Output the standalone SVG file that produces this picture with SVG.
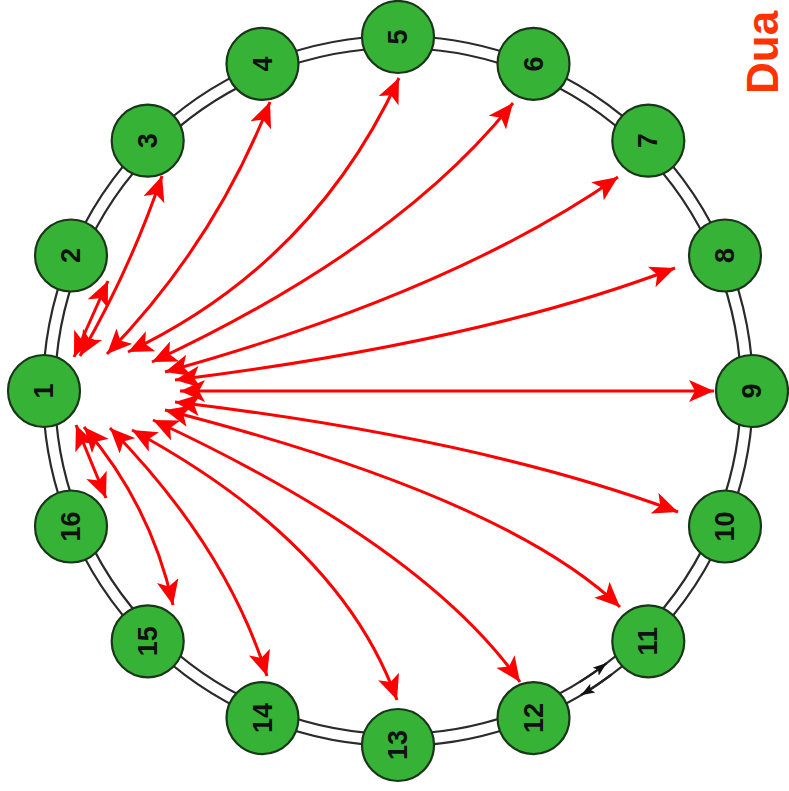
<svg xmlns="http://www.w3.org/2000/svg" width="789" height="791" viewBox="0 0 789 791">
<style>
.ring{fill:none;stroke:#2a2a2a;stroke-width:2.2}
.e{fill:none;stroke:#f00;stroke-width:3;marker-start:url(#ah);marker-end:url(#ah)}
.bk{fill:none;stroke:#222;stroke-width:2.2;marker-end:url(#bh)}
.n circle{fill:#36b236;stroke:#1a361a;stroke-width:2.2}
.n text{font-family:"Liberation Sans",Arial,sans-serif;font-weight:bold;font-size:27px;fill:#111;text-anchor:middle;dominant-baseline:central}
.title{font-family:"Liberation Sans",Arial,sans-serif;font-weight:bold;font-size:44px;fill:#ff3300}
</style>
<defs>
<marker id="ah" markerUnits="userSpaceOnUse" viewBox="0 0 25 22" markerWidth="25" markerHeight="22" refX="25" refY="11" orient="auto-start-reverse"><path d="M0,0 L25,11 L0,22 L6,11 Z" fill="#f00"/></marker>
<marker id="bh" markerUnits="userSpaceOnUse" viewBox="0 0 14 10" markerWidth="14" markerHeight="10" refX="14" refY="5" orient="auto"><path d="M0,0 L14,5 L0,10 L3,5 Z" fill="#111"/></marker>
</defs>
<rect width="789" height="791" fill="#fff"/>
<g id="ring">
<circle class="ring" cx="398" cy="391" r="355"/>
<circle class="ring" cx="398" cy="391" r="343"/>
<path class="bk" d="M579.8,681.9 A343,343 0 0 0 606.8,663.1"/>
<path class="bk" d="M611.6,674.5 A355,355 0 0 1 580.8,695.3"/>
</g>
<g id="connectors">
<path class="e" d="M74,357 L108,281"/>
<path class="e" d="M80,356 Q130,270 162,176"/>
<path class="e" d="M107,354 Q214,244 270,102"/>
<path class="e" d="M128,352 Q313,264 399,78"/>
<path class="e" d="M152,362 Q398,247 513,103"/>
<path class="e" d="M165,372 Q453,292 618,177"/>
<path class="e" d="M175,380 Q481,342 675,268"/>
<path class="e" d="M180,391 L714,391"/>
<path class="e" d="M175,402 Q483,439 678,512"/>
<path class="e" d="M165,410 Q505,497 620,607"/>
<path class="e" d="M153,420 Q424,546 520,682"/>
<path class="e" d="M132,430 Q341,543 397,700"/>
<path class="e" d="M110,428 Q226,546 267,676"/>
<path class="e" d="M84,427 Q151,505 173,605"/>
<path class="e" d="M76,425 L106,498"/>
</g>
<g id="n1" class="n"><circle cx="44" cy="391" r="36"/><text transform="translate(44,391) rotate(-90)">1</text></g>
<g id="n2" class="n"><circle cx="71" cy="255.5" r="36"/><text transform="translate(71,255.5) rotate(-90)">2</text></g>
<g id="n3" class="n"><circle cx="147.7" cy="140.7" r="36"/><text transform="translate(147.7,140.7) rotate(-90)">3</text></g>
<g id="n4" class="n"><circle cx="262.5" cy="63.9" r="36"/><text transform="translate(262.5,63.9) rotate(-90)">4</text></g>
<g id="n5" class="n"><circle cx="398" cy="37" r="36"/><text transform="translate(398,37) rotate(-90)">5</text></g>
<g id="n6" class="n"><circle cx="533.5" cy="63.9" r="36"/><text transform="translate(533.5,63.9) rotate(-90)">6</text></g>
<g id="n7" class="n"><circle cx="648.3" cy="140.7" r="36"/><text transform="translate(648.3,140.7) rotate(-90)">7</text></g>
<g id="n8" class="n"><circle cx="725" cy="255.5" r="36"/><text transform="translate(725,255.5) rotate(-90)">8</text></g>
<g id="n9" class="n"><circle cx="752" cy="391" r="36"/><text transform="translate(752,391) rotate(-90)">9</text></g>
<g id="n10" class="n"><circle cx="725" cy="526.5" r="36"/><text transform="translate(725,526.5) rotate(-90)">10</text></g>
<g id="n11" class="n"><circle cx="648.3" cy="641.3" r="36"/><text transform="translate(648.3,641.3) rotate(-90)">11</text></g>
<g id="n12" class="n"><circle cx="533.5" cy="718.1" r="36"/><text transform="translate(533.5,718.1) rotate(-90)">12</text></g>
<g id="n13" class="n"><circle cx="398" cy="745" r="36"/><text transform="translate(398,745) rotate(-90)">13</text></g>
<g id="n14" class="n"><circle cx="262.5" cy="718.1" r="36"/><text transform="translate(262.5,718.1) rotate(-90)">14</text></g>
<g id="n15" class="n"><circle cx="147.7" cy="641.3" r="36"/><text transform="translate(147.7,641.3) rotate(-90)">15</text></g>
<g id="n16" class="n"><circle cx="71" cy="526.5" r="36"/><text transform="translate(71,526.5) rotate(-90)">16</text></g>
<text class="title" transform="translate(778,94) rotate(-90)">Dua</text>
</svg>
